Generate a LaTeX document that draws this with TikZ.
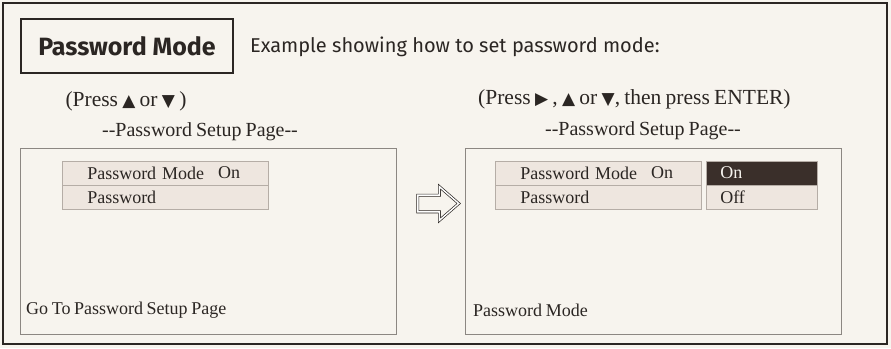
\documentclass[tikz,border=0pt]{standalone}
\usepackage{fontspec}
\setmainfont[WordSpace=0.8]{Liberation Serif}
\newfontfamily\headfont{Fira Sans}
\newfontfamily\symfont{DejaVu Sans}
\usetikzlibrary{positioning,shapes.arrows}

\definecolor{paper}{HTML}{F7F4EE}
\definecolor{ink}{HTML}{2B2623}
\definecolor{screenline}{HTML}{8C8782}
\definecolor{rowline}{HTML}{B5ADA6}
\definecolor{rowfill}{HTML}{EEE6DF}
\definecolor{selfill}{HTML}{3A2F2A}

\newcommand{\keyup}{{\symfont\fontsize{17}{17}\selectfont ▲}}
\newcommand{\keydown}{{\symfont\fontsize{17}{17}\selectfont ▼}}
\newcommand{\keyright}{{\symfont\fontsize{17}{17}\selectfont ▶}}

\tikzstyle{titlebox}=[draw=ink, line width=1.3pt, minimum width=212pt, minimum height=54pt, font=\headfont\bfseries\fontsize{25}{28}\selectfont]
\tikzstyle{headtext}=[inner sep=0pt, font=\headfont\fontsize{20}{22}\selectfont]
\tikzstyle{keytext}=[inner sep=0pt, font=\fontsize{21.5}{23}\selectfont]
\tikzstyle{pagetext}=[inner sep=0pt, font=\fontsize{20}{22}\selectfont]
\tikzstyle{screen}=[draw=screenline, line width=0.8pt, minimum width=376pt, minimum height=186pt, inner sep=0pt]
\tikzstyle{menurow}=[draw=rowline, fill=rowfill, line width=0.5pt, minimum width=206pt, minimum height=23.5pt, inner xsep=25pt, inner ysep=0pt, text width=156pt, align=left]
\tikzstyle{optrow}=[menurow, minimum width=111pt, inner xsep=14pt, text width=83pt]
\tikzstyle{menutext}=[inner sep=0pt]

\begin{document}
\begin{tikzpicture}[x=1pt, y=-1pt, text=ink, font=\fontsize{18}{20}\selectfont]
    \useasboundingbox (0,0) rectangle (891,348);
    \fill[paper] (0,0) rectangle (891,348);
    \draw[ink, line width=1.8pt] (3,3) rectangle (887,344);

    \node[titlebox] (title) at (127,46) {Password Mode};
    \node[headtext, anchor=west] (intro) at (250,47) {Example showing how to set password mode:};

    % before: setup page
    \node[keytext] (keysA) at (126,101) {(Press \keyup{} or \keydown{} )};
    \node[pagetext] (pageA) at (200,132) {-{}-Password Setup Page-{}-};
    \node[screen] (scrA) at (208,241) {};
    \node[menurow, anchor=north west] (modeA) at (62,161) {Password Mode};
    \node[menurow, below=0pt of modeA] (pwA) {Password};
    \node[menutext, anchor=west, xshift=156pt] (valA) at (modeA.west) {On};
    \node[menutext, anchor=west] (hintA) at (26,310) {Go To Password Setup Page};

    \node[single arrow, draw=ink, line width=0.7pt, double=white, double distance=1.4pt,
          minimum height=41pt, inner sep=8pt, single arrow head extend=8.5pt,
          single arrow tip angle=82] (next) at (433.5,203.5) {};

    % after: option list open
    \node[keytext, anchor=west] (keysB) at (478,99) {(Press \keyright{} , \keyup{} or \keydown{}, then press ENTER)};
    \node[pagetext] (pageB) at (643,131) {-{}-Password Setup Page-{}-};
    \node[screen] (scrB) at (653.5,241) {};
    \node[menurow, anchor=north west] (modeB) at (495,161) {Password Mode};
    \node[menurow, below=0pt of modeB] (pwB) {Password};
    \node[menutext, anchor=west, xshift=156pt] (valB) at (modeB.west) {On};
    \node[optrow, anchor=north west, fill=selfill, text=paper] (optOn) at (706,161) {On};
    \node[optrow, below=0pt of optOn] (optOff) {Off};
    \node[menutext, anchor=west] (hintB) at (473,310) {Password Mode};
\end{tikzpicture}
\end{document}
